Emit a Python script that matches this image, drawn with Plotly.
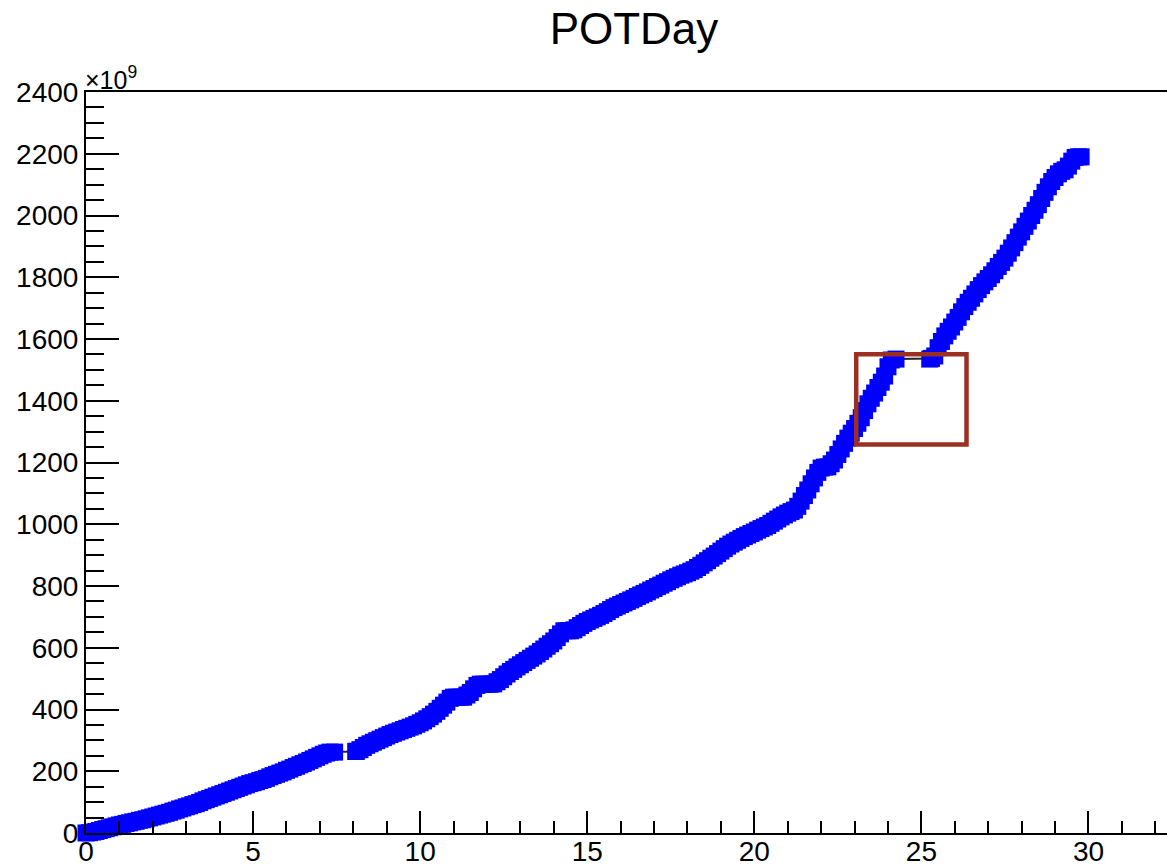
import plotly.graph_objects as go

# Cumulative protons on target versus day, in units of 1e9.
# Three running periods separated by two beam-off gaps.
day_a = [
    0.0, 0.1, 0.2, 0.3, 0.4, 0.5, 0.6, 0.7, 0.8, 0.9, 1.0, 1.1, 1.2, 1.3, 1.4,
    1.5, 1.6, 1.7, 1.8, 1.9, 2.0, 2.1, 2.2, 2.3, 2.4, 2.5, 2.6, 2.7, 2.8, 2.9,
    3.0, 3.1, 3.2, 3.3, 3.4, 3.5, 3.6, 3.7, 3.8, 3.9, 4.0, 4.1, 4.2, 4.3, 4.4,
    4.5, 4.6, 4.7, 4.8, 4.9, 5.0, 5.1, 5.2, 5.3, 5.4, 5.5, 5.6, 5.7, 5.8, 5.9,
    6.0, 6.1, 6.2, 6.3, 6.4, 6.5, 6.6, 6.7, 6.8, 6.9, 7.0, 7.1, 7.2, 7.3, 7.44,
]
pot_a = [
    0, 1, 3, 5, 8, 11, 14, 17, 20, 23, 26, 28, 31, 33, 36,
    38, 41, 43, 46, 49, 52, 55, 58, 61, 64, 67, 71, 74, 78, 81,
    85, 88, 92, 95, 99, 104, 108, 112, 116, 120, 124, 128, 132, 136, 140,
    144, 148, 152, 156, 160, 163, 166, 170, 173, 177, 182, 186, 190, 194, 198,
    203, 207, 212, 216, 221, 225, 230, 235, 240, 245, 250, 255, 259, 262, 262,
]

day_b = [
    8.07, 8.1, 8.2, 8.3, 8.4, 8.5, 8.6, 8.7, 8.8, 8.9, 9.0, 9.1, 9.2, 9.3, 9.4,
    9.5, 9.6, 9.7, 9.8, 9.9, 10.0, 10.1, 10.2, 10.3, 10.4, 10.5, 10.6, 10.7,
    10.8, 10.9, 11.0, 11.1, 11.2, 11.3, 11.4, 11.5, 11.6, 11.7, 11.8, 11.9,
    12.0, 12.1, 12.2, 12.3, 12.4, 12.5, 12.6, 12.7, 12.8, 12.9, 13.0, 13.1,
    13.2, 13.3, 13.4, 13.5, 13.6, 13.7, 13.8, 13.9, 14.0, 14.1, 14.2, 14.3,
    14.4, 14.5, 14.6, 14.7, 14.8, 14.9, 15.0, 15.1, 15.2, 15.3, 15.4, 15.5,
    15.6, 15.7, 15.8, 15.9, 16.0, 16.1, 16.2, 16.3, 16.4, 16.5, 16.6, 16.7,
    16.8, 16.9, 17.0, 17.1, 17.2, 17.3, 17.4, 17.5, 17.6, 17.7, 17.8, 17.9,
    18.0, 18.1, 18.2, 18.3, 18.4, 18.5, 18.6, 18.7, 18.8, 18.9, 19.0, 19.1,
    19.2, 19.3, 19.4, 19.5, 19.6, 19.7, 19.8, 19.9, 20.0, 20.1, 20.2, 20.3,
    20.4, 20.5, 20.6, 20.7, 20.8, 20.9, 21.0, 21.1, 21.2, 21.3, 21.4, 21.5,
    21.6, 21.7, 21.8, 21.9, 22.0, 22.1, 22.2, 22.3, 22.4, 22.5, 22.6, 22.7,
    22.8, 22.9, 23.0, 23.1, 23.2, 23.3, 23.4, 23.5, 23.6, 23.7, 23.8, 23.9,
    24.0, 24.1, 24.24,
]
pot_b = [
    264, 265, 270, 277, 284, 289, 294, 299, 304, 309, 314, 319, 323, 327, 331,
    335, 339, 343, 347, 352, 357, 363, 370, 377, 385, 394, 404, 414,
    424, 436, 440, 440, 440, 440, 447, 455, 467, 478, 482, 482,
    482, 482, 483, 490, 497, 506, 515, 523, 530, 538, 545, 552,
    559, 566, 573, 580, 588, 596, 605, 613, 622, 633, 645, 655,
    655, 655, 658, 665, 672, 679, 685, 690, 695, 700, 705, 711,
    717, 724, 730, 735, 740, 745, 750, 755, 760, 766, 771, 776,
    781, 787, 792, 798, 803, 809, 814, 820, 825, 830, 835, 839,
    843, 848, 853, 860, 867, 875, 882, 890, 897, 905, 913, 921,
    929, 936, 942, 948, 954, 960, 965, 970, 975, 981, 986, 991,
    996, 1003, 1010, 1017, 1024, 1030, 1036, 1041, 1046, 1058, 1075, 1093,
    1111, 1131, 1150, 1168, 1182, 1185, 1186, 1196, 1208, 1226, 1244, 1262,
    1279, 1295, 1310, 1327, 1345, 1368, 1390, 1408, 1425, 1443, 1460, 1480,
    1510, 1532, 1535,
]

day_c = [
    25.25, 25.3, 25.4, 25.5, 25.6, 25.7, 25.8, 25.9, 26.0, 26.1, 26.2, 26.3,
    26.4, 26.5, 26.6, 26.7, 26.8, 26.9, 27.0, 27.1, 27.2, 27.3, 27.4, 27.5,
    27.6, 27.7, 27.8, 27.9, 28.0, 28.1, 28.2, 28.3, 28.4, 28.5, 28.6, 28.7,
    28.8, 28.9, 29.0, 29.1, 29.2, 29.3, 29.4, 29.5, 29.6, 29.7, 29.78,
]
pot_c = [
    1535, 1537, 1545, 1572, 1592, 1610, 1625, 1639, 1655, 1670, 1688, 1705,
    1719, 1732, 1746, 1760, 1773, 1785, 1796, 1808, 1821, 1835, 1848, 1862,
    1878, 1895, 1912, 1930, 1947, 1965, 1982, 2000, 2017, 2035, 2055, 2075,
    2093, 2110, 2123, 2135, 2143, 2148, 2160, 2176, 2188, 2190, 2190,
]

day = day_a + day_b + day_c
pot_e9 = pot_a + pot_b + pot_c

# Highlighted window (day range, POT range in 1e9)
box_day = [23.05, 26.35]
box_pot = [1258, 1551]

x_range = [0, 32.35]
y_range = [0, 2400]

FONT = "Liberation Sans, Arial, Helvetica, sans-serif"

fig = go.Figure()
fig.add_trace(go.Scatter(
    x=day, y=pot_e9,
    mode="lines+markers",
    line=dict(color="#222222", width=2),
    marker=dict(symbol="square", size=17, color="#0000ff", line=dict(width=0)),
    cliponaxis=False,
    showlegend=False,
))

fig.add_shape(
    type="rect", xref="x", yref="y",
    x0=box_day[0], x1=box_day[1], y0=box_pot[0], y1=box_pot[1],
    line=dict(color="#9b3022", width=4.5),
    layer="above",
)

fig.add_annotation(
    text="×10<sup>9</sup>", xref="paper", yref="paper",
    x=0, y=1, xanchor="left", yanchor="bottom", yshift=-4, xshift=-3,
    showarrow=False, font=dict(family=FONT, size=25, color="black"),
)

fig.update_layout(
    width=1167, height=867,
    margin=dict(l=86, r=0, t=92, b=34),
    paper_bgcolor="white", plot_bgcolor="white",
    title=dict(
        text="POTDay", x=634 / 1167, xanchor="center",
        y=1 - 29 / 867, yanchor="middle",
        font=dict(family=FONT, size=44, color="black"),
    ),
    font=dict(family=FONT, size=28, color="black"),
    xaxis=dict(
        range=x_range, showgrid=False, zeroline=False, automargin=False,
        showline=True, linecolor="black", linewidth=2, mirror=True,
        ticks="inside", ticklen=22, tickwidth=2, tickcolor="black",
        tick0=0, dtick=5, ticklabelstandoff=-8,
        minor=dict(ticks="inside", ticklen=12, tickwidth=2,
                   tickcolor="black", tick0=0, dtick=1, showgrid=False),
        tickfont=dict(family=FONT, size=28, color="black"),
    ),
    yaxis=dict(
        range=y_range, showgrid=False, zeroline=False, automargin=False,
        showline=True, linecolor="black", linewidth=2, mirror=False,
        ticks="inside", ticklen=33, tickwidth=2, tickcolor="black",
        tick0=0, dtick=200, ticklabelstandoff=0,
        minor=dict(ticks="inside", ticklen=18, tickwidth=2,
                   tickcolor="black", tick0=0, dtick=50, showgrid=False),
        tickfont=dict(family=FONT, size=28, color="black"),
    ),
)

fig.write_html("out.html")
